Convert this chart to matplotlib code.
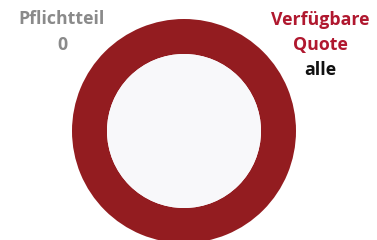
import matplotlib
matplotlib.use("Agg")
import matplotlib.pyplot as plt
from matplotlib.patches import Circle

labels = ["Pflichtteil", "Verfügbare Quote"]
values = [0, 1]
value_texts = ["0", "alle"]
colors = ["#8c8c8c", "#931c20"]

fig = plt.figure(figsize=(3.77, 2.40), dpi=100)
fig.patch.set_facecolor("white")
ax = fig.add_axes([0, 0, 1, 1])

cx, cy, R, r = 184, 131, 112, 77
ax.pie(values, colors=colors, center=(cx, cy), radius=R, startangle=90,
       counterclock=False, wedgeprops=dict(width=R - r, linewidth=0))
ax.add_patch(Circle((cx, cy), r, facecolor="#f8f8fa", edgecolor="none", zorder=3))

ax.set_xlim(0, 377)
ax.set_ylim(240, 0)
ax.set_aspect("equal")
ax.axis("off")

fp = dict(family="Open Sans", fontweight="bold", fontsize=12.8, ha="center", va="center")
ax.text(62, 19, labels[0], color="#8a8a8a", **fp)
ax.text(62, 45, value_texts[0], color="#8a8a8a", **fp)
ax.text(320, 20, "Verfügbare", color="#b0182f", **fp)
ax.text(320, 45, "Quote", color="#b0182f", **fp)
ax.text(320, 70, value_texts[1], color="#111111", **fp)

fig.savefig("out.png", dpi=100)
